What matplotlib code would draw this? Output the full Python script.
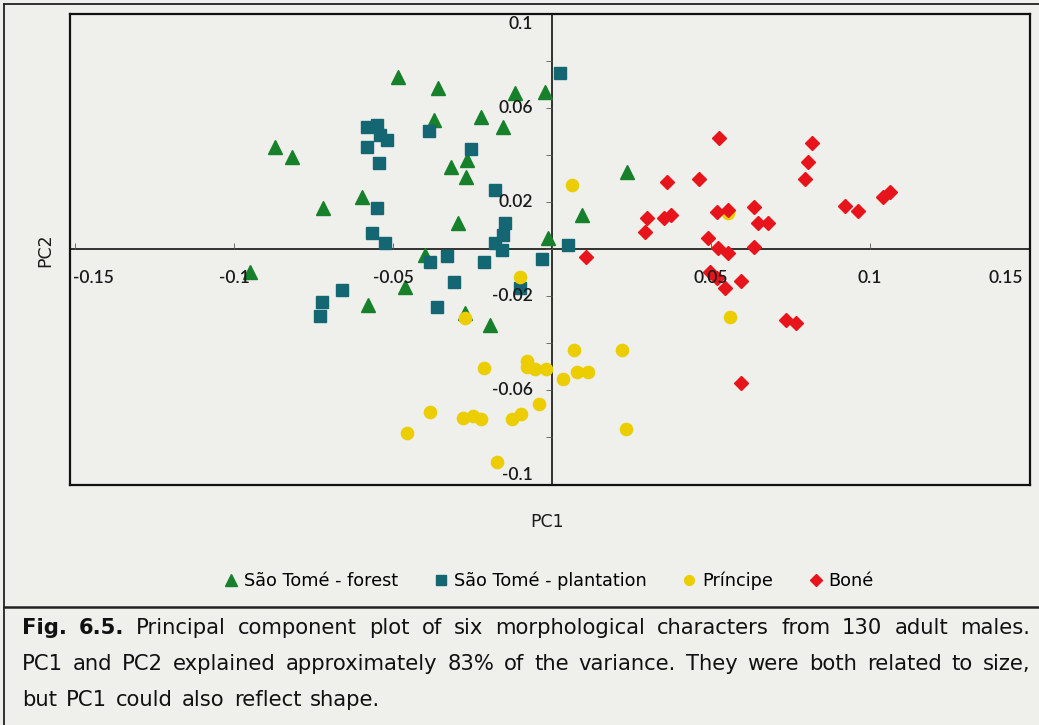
import numpy as np
import matplotlib
matplotlib.use('Agg')
import matplotlib.pyplot as plt
from matplotlib.lines import Line2D

# values (PC1, PC2)
forest_x = [-0.0484, -0.0358, -0.0116, -0.0022, -0.0371, -0.0223, -0.0154, -0.0871,
            -0.0818, -0.0317, -0.0267, -0.0270, -0.0597, -0.0720, -0.0296, -0.0013,
            0.0094, 0.0236, -0.0399, -0.0950, -0.0462, -0.0579, -0.0274, -0.0195]
forest_y = [0.0730, 0.0683, 0.0662, 0.0666, 0.0545, 0.0560, 0.0517, 0.0432,
            0.0389, 0.0347, 0.0377, 0.0304, 0.0219, 0.0172, 0.0108, 0.0045,
            0.0143, 0.0326, -0.0028, -0.0100, -0.0164, -0.0240, -0.0274, -0.0326]

plant_x = [0.0025, -0.0582, -0.0550, -0.0541, -0.0519, -0.0582, -0.0387, -0.0255,
           -0.0544, -0.0179, -0.0550, -0.0148, -0.0154, -0.0179, -0.0566, -0.0525,
           0.0050, -0.0157, -0.0330, -0.0384, -0.0214, -0.0031, -0.0308, -0.0660,
           -0.0723, -0.0730, -0.0362, -0.0101]
plant_y = [0.0747, 0.0517, 0.0525, 0.0483, 0.0462, 0.0432, 0.0500, 0.0423,
           0.0364, 0.0249, 0.0172, 0.0108, 0.0057, 0.0023, 0.0066, 0.0023,
           0.0015, -0.0006, -0.0032, -0.0057, -0.0057, -0.0045, -0.0143, -0.0177,
           -0.0228, -0.0287, -0.0249, -0.0168]

princ_x = [0.0063, 0.0553, -0.0101, -0.0274, 0.0069, -0.0214, -0.0079, -0.0079,
           -0.0053, -0.0019, 0.0079, 0.0113, 0.0035, -0.0041, -0.0384, -0.0280,
           -0.0248, -0.0223, -0.0126, -0.0097, -0.0456, -0.0173, 0.0220, 0.0233,
           0.0560]
princ_y = [0.0270, 0.0151, -0.0121, -0.0296, -0.0432, -0.0509, -0.0479, -0.0504,
           -0.0513, -0.0513, -0.0526, -0.0526, -0.0555, -0.0662, -0.0696, -0.0721,
           -0.0713, -0.0726, -0.0726, -0.0704, -0.0785, -0.0909, -0.0432, -0.0768,
           -0.0291]

bone_x = [0.0525, 0.0818, 0.0805, 0.0796, 0.0362, 0.0462, 0.1041, 0.1063,
          0.0921, 0.0962, 0.0299, 0.0292, 0.0352, 0.0374, 0.0519, 0.0553,
          0.0635, 0.0648, 0.0679, 0.0491, 0.0522, 0.0553, 0.0635, 0.0107,
          0.0497, 0.0519, 0.0544, 0.0594, 0.0736, 0.0767, 0.0594]
bone_y = [0.0470, 0.0449, 0.0368, 0.0296, 0.0283, 0.0296, 0.0219, 0.0240,
          0.0181, 0.0160, 0.0130, 0.0070, 0.0130, 0.0143, 0.0155, 0.0164,
          0.0177, 0.0109, 0.0109, 0.0045, 0.0002, -0.0019, 0.0006, -0.0036,
          -0.0100, -0.0126, -0.0168, -0.0138, -0.0304, -0.0317, -0.0572]

group_names = ['São Tomé - forest', 'São Tomé - plantation', 'Príncipe', 'Boné']

x_ticks = [-0.15, -0.1, -0.05, 0.05, 0.1, 0.15]
x_tick_labels = ['-0.15', '-0.1', '-0.05', '0.05', '0.1', '0.15']
y_ticks = [0.1, 0.06, 0.02, -0.02, -0.06, -0.1]
y_tick_labels = ['0.1', '0.06', '0.02', '-0.02', '-0.06', '-0.1']

caption_lines = [
    'Fig. 6.5. Principal component plot of six morphological characters from 130 adult males.',
    'PC1 and PC2 explained approximately 83% of the variance. They were both related to size,',
    'but PC1 could also reflect shape.',
]

bg = '#efefeb'
sans = ['DejaVu Sans']

W, H = 1039, 725
fig = plt.figure(figsize=(W / 100, H / 100), dpi=100, facecolor=bg)
ax = fig.add_axes([70 / W, 1 - 485 / H, 960 / W, 471 / H], facecolor=bg)
ax.set_xlim(-0.1516, 0.1503)
ax.set_ylim(-0.1006, 0.0998)
ax.set_xticks([])
ax.set_yticks([])
for s in ax.spines.values():
    s.set_linewidth(1.6)
    s.set_color('#111111')

# axes through the origin with small ticks
ax.axhline(0, color='#111111', lw=1.2, zorder=1)
ax.axvline(0, color='#111111', lw=1.2, zorder=1)
ax.plot(np.arange(-0.15, 0.151, 0.05), np.zeros(7), ls='none', marker=2,
        ms=4, mew=0.6, color='#555555', zorder=1)
ax.plot(np.zeros(11), np.arange(-0.1, 0.101, 0.02), ls='none', marker=0,
        ms=4, mew=0.6, color='#555555', zorder=1)

ax.plot(forest_x, forest_y, ls='none', marker='^', ms=9.5, color='#16802a', zorder=3)
ax.plot(plant_x, plant_y, ls='none', marker='s', ms=8.2, color='#156673', zorder=3)
ax.plot(princ_x, princ_y, ls='none', marker='o', ms=8.8, color='#ebcd00', zorder=3)
ax.plot(bone_x, bone_y, ls='none', marker='D', ms=7.2, color='#e8141c', zorder=3)

tick_kw = dict(fontsize=12.5, family=['Lato', 'DejaVu Sans'], fontweight='semibold',
               color='#1a1a1a', zorder=4)
for v, lab in zip(x_ticks, x_tick_labels):
    ha = 'center'
    xv = v
    if v < -0.14:
        ha, xv = 'left', -0.1505
    elif v > 0.14:
        ha, xv = 'right', 0.1482
    ax.text(xv, -0.0125, lab, ha=ha, va='center', **tick_kw)
for v, lab in zip(y_ticks, y_tick_labels):
    yv = v
    if v > 0.09:
        yv = 0.0955
    elif v < -0.09:
        yv = -0.0964
    ax.text(-0.006, yv, lab, ha='right', va='center', **tick_kw)

fig.text(547 / W, 1 - 522 / H, 'PC1', ha='center', va='center', fontsize=12.5,
         family=sans, color='#1a1a1a')
fig.text(45 / W, 1 - 250 / H, 'PC2', ha='center', va='center', fontsize=12.5,
         family=sans, color='#1a1a1a', rotation=90)

handles = [
    Line2D([], [], ls='none', marker='^', ms=9, color='#16802a'),
    Line2D([], [], ls='none', marker='s', ms=6.5, color='#156673'),
    Line2D([], [], ls='none', marker='o', ms=7, color='#ebcd00'),
    Line2D([], [], ls='none', marker='D', ms=6, color='#e8141c'),
]
fig.legend(handles, group_names, loc='center', bbox_to_anchor=(549 / W, 1 - 581 / H),
           ncol=4, frameon=False, handlelength=0.8, handletextpad=0.35,
           columnspacing=2.0, prop={'family': sans, 'size': 12.7})

# outer frame and caption box
frame_kw = dict(color='#222222', lw=1.3)
fig.add_artist(Line2D([4 / W, 4 / W], [0, 1 - 4 / H], **frame_kw))
fig.add_artist(Line2D([4 / W, 1], [1 - 4 / H, 1 - 4 / H], **frame_kw))
fig.add_artist(Line2D([4 / W, 1], [1 - 607 / H, 1 - 607 / H], color='#222222', lw=1.8))

# justified caption, word by word
fig.canvas.draw()
r = fig.canvas.get_renderer()
left, right = 22, 1030
for i, line in enumerate(caption_lines):
    words = line.split(' ')
    ypos = 1 - (628 + 36 * i) / H
    arts = []
    for j, w in enumerate(words):
        bold = (i == 0 and j < 2)
        t = fig.text(0, ypos, w, ha='left', va='center', fontsize=15.2, family=sans,
                     fontweight='bold' if bold else 'normal', color='#111111')
        arts.append(t)
    widths = [t.get_window_extent(r).width for t in arts]
    if i < len(caption_lines) - 1:
        gap = (right - left - sum(widths)) / (len(words) - 1)
    else:
        gap = 9
    x = left
    for t, wd in zip(arts, widths):
        t.set_x(x / W)
        x += wd + gap

fig.savefig('out.png', dpi=100, facecolor=bg)
